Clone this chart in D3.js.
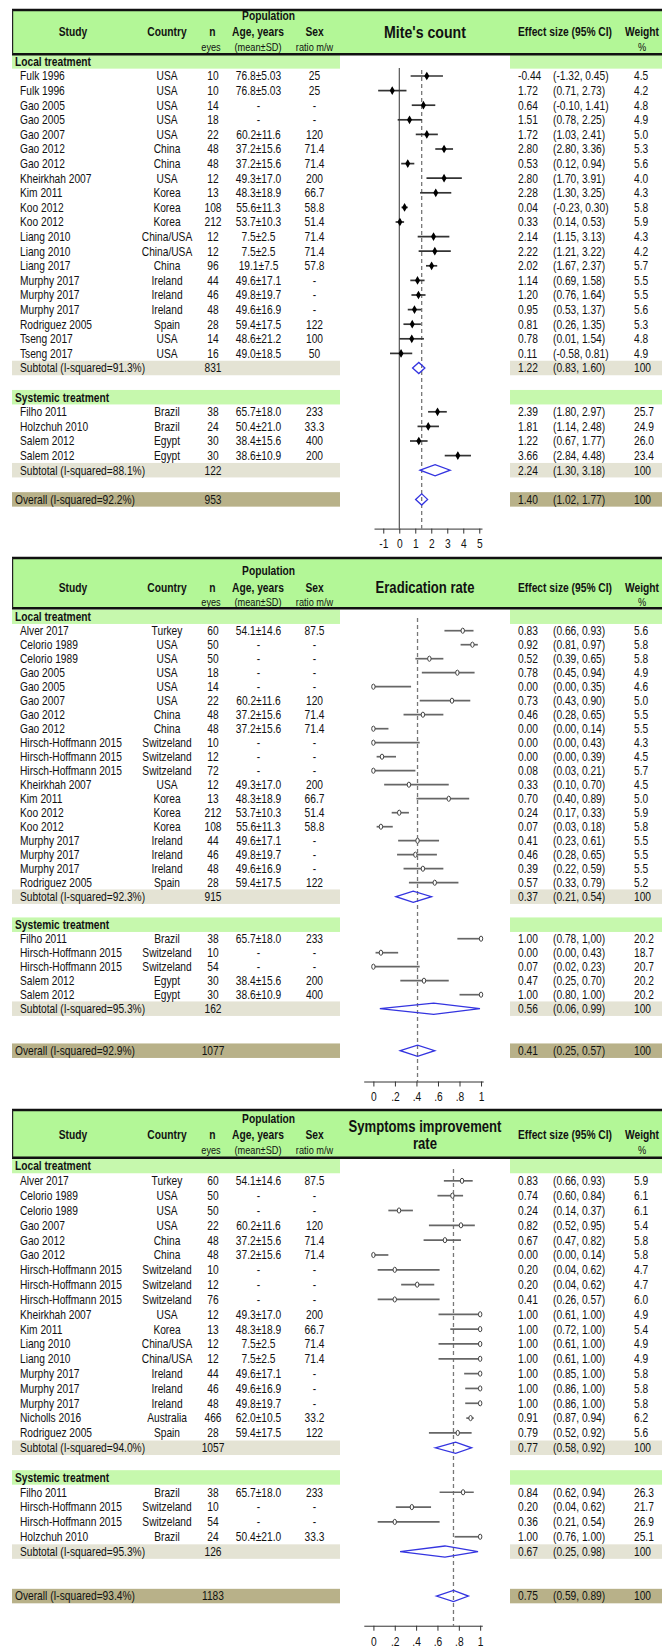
<!DOCTYPE html>
<html><head><meta charset="utf-8">
<script src="https://cdn.jsdelivr.net/npm/d3@7"></script>
<style>body{margin:0;background:#fff}svg{display:block}</style>
</head><body><svg id="c" width="662" height="1646"></svg>
<script>
// ================= DATA =================
// ---- Panel 1: Mite's count ----
const miteGroup   = [0,0,0,0,0,0,0,0,0,0,0,0,0,0,0,0,0,0,0,0,1,1,1,1];
const miteStudy   = ["Fulk 1996","Fulk 1996","Gao 2005","Gao 2005","Gao 2007","Gao 2012","Gao 2012","Kheirkhah 2007","Kim 2011","Koo 2012","Koo 2012","Liang 2010","Liang 2010","Liang 2017","Murphy 2017","Murphy 2017","Murphy 2017","Rodriguez 2005","Tseng 2017","Tseng 2017","Filho 2011","Holzchuh 2010","Salem 2012","Salem 2012"];
const miteCountry = ["USA","USA","USA","USA","USA","China","China","USA","Korea","Korea","Korea","China/USA","China/USA","China","Ireland","Ireland","Ireland","Spain","USA","USA","Brazil","Brazil","Egypt","Egypt"];
const miteN       = [10,10,14,18,22,48,48,12,13,108,212,12,12,96,44,46,48,28,14,16,38,24,30,30];
const miteAge     = ["76.8±5.03","76.8±5.03","-","-","60.2±11.6","37.2±15.6","37.2±15.6","49.3±17.0","48.3±18.9","55.6±11.3","53.7±10.3","7.5±2.5","7.5±2.5","19.1±7.5","49.6±17.1","49.8±19.7","49.6±16.9","59.4±17.5","48.6±21.2","49.0±18.5","65.7±18.0","50.4±21.0","38.4±15.6","38.6±10.9"];
const miteSex     = ["25","25","-","-","120","71.4","71.4","200","66.7","58.8","51.4","71.4","71.4","57.8","-","-","-","122","100","50","233","33.3","400","200"];
const miteES      = [-0.44,1.72,0.64,1.51,1.72,2.80,0.53,2.80,2.28,0.04,0.33,2.14,2.22,2.02,1.14,1.20,0.95,0.81,0.78,0.11,2.39,1.81,1.22,3.66];
const miteCI      = ["(-1.32, 0.45)","(0.71, 2.73)","(-0.10, 1.41)","(0.78, 2.25)","(1.03, 2.41)","(2.80, 3.36)","(0.12, 0.94)","(1.70, 3.91)","(1.30, 3.25)","(-0.23, 0.30)","(0.14, 0.53)","(1.15, 3.13)","(1.21, 3.22)","(1.67, 2.37)","(0.69, 1.58)","(0.76, 1.64)","(0.53, 1.37)","(0.26, 1.35)","(0.01, 1.54)","(-0.58, 0.81)","(1.80, 2.97)","(1.14, 2.48)","(0.67, 1.77)","(2.84, 4.48)"];
const miteWeight  = ["4.5","4.2","4.8","4.9","5.0","5.3","5.6","4.0","4.3","5.8","5.9","4.3","4.2","5.7","5.5","5.5","5.6","5.3","4.8","4.9","25.7","24.9","26.0","23.4"];
// values as plotted in the graph column
const mitePlotES  = [1.72,-0.44,1.51,0.64,1.72,2.80,0.53,2.80,2.28,0.33,0.04,2.14,2.22,2.02,1.14,1.20,0.95,0.81,0.78,0.11,2.39,1.81,1.22,3.66];
const mitePlotLo  = [0.71,-1.32,0.78,-0.10,1.03,2.25,0.12,1.70,1.30,0.14,-0.23,1.15,1.21,1.67,0.69,0.76,0.53,0.26,0.01,-0.58,1.80,1.14,0.67,2.84];
const mitePlotHi  = [2.73,0.45,2.25,1.41,2.41,3.36,0.94,3.91,3.25,0.53,0.30,3.13,3.22,2.37,1.58,1.64,1.37,1.35,1.54,0.81,2.97,2.48,1.77,4.48];
const miteSubLabel = ["Subtotal (I-squared=91.3%)","Subtotal (I-squared=88.1%)"];
const miteSubN  = [831,122];
const miteSubES = [1.22,2.24], miteSubLo = [0.83,1.30], miteSubHi = [1.60,3.18];
const miteOverall = {label:"Overall (I-squared=92.2%)", n:953, es:1.40, lo:1.02, hi:1.77};
const miteTicks = [-1,0,1,2,3,4,5];
const miteTickLabels = ["-1","0","1","2","3","4","5"];

// ---- Panel 2: Eradication rate ----
const eradGroup   = [0,0,0,0,0,0,0,0,0,0,0,0,0,0,0,0,0,0,0,1,1,1,1,1];
const eradStudy   = ["Alver 2017","Celorio 1989","Celorio 1989","Gao 2005","Gao 2005","Gao 2007","Gao 2012","Gao 2012","Hirsch-Hoffmann 2015","Hirsch-Hoffmann 2015","Hirsch-Hoffmann 2015","Kheirkhah 2007","Kim 2011","Koo 2012","Koo 2012","Murphy 2017","Murphy 2017","Murphy 2017","Rodriguez 2005","Filho 2011","Hirsch-Hoffmann 2015","Hirsch-Hoffmann 2015","Salem 2012","Salem 2012"];
const eradCountry = ["Turkey","USA","USA","USA","USA","USA","China","China","Switzeland","Switzeland","Switzeland","USA","Korea","Korea","Korea","Ireland","Ireland","Ireland","Spain","Brazil","Switzeland","Switzeland","Egypt","Egypt"];
const eradN       = [60,50,50,18,14,22,48,48,10,12,72,12,13,212,108,44,46,48,28,38,10,54,30,30];
const eradAge     = ["54.1±14.6","-","-","-","-","60.2±11.6","37.2±15.6","37.2±15.6","-","-","-","49.3±17.0","48.3±18.9","53.7±10.3","55.6±11.3","49.6±17.1","49.8±19.7","49.6±16.9","59.4±17.5","65.7±18.0","-","-","38.4±15.6","38.6±10.9"];
const eradSex     = ["87.5","-","-","-","-","120","71.4","71.4","-","-","-","200","66.7","51.4","58.8","-","-","-","122","233","-","-","200","400"];
const eradES      = [0.83,0.92,0.52,0.78,0.00,0.73,0.46,0.00,0.00,0.00,0.08,0.33,0.70,0.24,0.07,0.41,0.46,0.39,0.57,1.00,0.00,0.07,0.47,1.00];
const eradCI      = ["(0.66, 0.93)","(0.81, 0.97)","(0.39, 0.65)","(0.45, 0.94)","(0.00, 0.35)","(0.43, 0.90)","(0.28, 0.65)","(0.00, 0.14)","(0.00, 0.43)","(0.00, 0.39)","(0.03, 0.21)","(0.10, 0.70)","(0.40, 0.89)","(0.17, 0.33)","(0.03, 0.18)","(0.23, 0.61)","(0.28, 0.65)","(0.22, 0.59)","(0.33, 0.79)","(0.78, 1,00)","(0.00, 0.43)","(0.02, 0.23)","(0.25, 0.70)","(0.80, 1.00)"];
const eradWeight  = ["5.6","5.8","5.8","4.9","4.6","5.0","5.5","5.5","4.3","4.5","5.7","4.5","5.0","5.9","5.8","5.5","5.5","5.5","5.2","20.2","18.7","20.7","20.2","20.2"];
const eradPlotES  = [0.83,0.92,0.52,0.78,0.00,0.73,0.46,0.00,0.00,0.08,0.00,0.33,0.70,0.24,0.07,0.41,0.39,0.46,0.57,1.00,0.07,0.00,0.47,1.00];
const eradPlotLo  = [0.66,0.81,0.39,0.45,0.00,0.43,0.28,0.00,0.00,0.03,0.00,0.10,0.40,0.17,0.03,0.23,0.22,0.28,0.33,0.78,0.02,0.00,0.25,0.80];
const eradPlotHi  = [0.93,0.97,0.65,0.94,0.35,0.90,0.65,0.14,0.43,0.21,0.39,0.70,0.89,0.33,0.18,0.61,0.59,0.65,0.79,1.00,0.23,0.43,0.70,1.00];
const eradSubLabel = ["Subtotal (I-squared=92.3%)","Subtotal (I-squared=95.3%)"];
const eradSubN  = [915,162];
const eradSubES = [0.37,0.56], eradSubLo = [0.21,0.06], eradSubHi = [0.54,0.99];
const eradOverall = {label:"Overall (I-squared=92.9%)", n:1077, es:0.41, lo:0.25, hi:0.57};
const rateTicks = [0,0.2,0.4,0.6,0.8,1];
const rateTickLabels = ["0",".2",".4",".6",".8","1"];

// ---- Panel 3: Symptoms improvement rate ----
const sympGroup   = [0,0,0,0,0,0,0,0,0,0,0,0,0,0,0,0,0,0,1,1,1,1];
const sympStudy   = ["Alver 2017","Celorio 1989","Celorio 1989","Gao 2007","Gao 2012","Gao 2012","Hirsch-Hoffmann 2015","Hirsch-Hoffmann 2015","Hirsch-Hoffmann 2015","Kheirkhah 2007","Kim 2011","Liang 2010","Liang 2010","Murphy 2017","Murphy 2017","Murphy 2017","Nicholls 2016","Rodriguez 2005","Filho 2011","Hirsch-Hoffmann 2015","Hirsch-Hoffmann 2015","Holzchuh 2010"];
const sympCountry = ["Turkey","USA","USA","USA","China","China","Switzeland","Switzeland","Switzeland","USA","Korea","China/USA","China/USA","Ireland","Ireland","Ireland","Australia","Spain","Brazil","Switzeland","Switzeland","Brazil"];
const sympN       = [60,50,50,22,48,48,10,12,76,12,13,12,12,44,46,48,466,28,38,10,54,24];
const sympAge     = ["54.1±14.6","-","-","60.2±11.6","37.2±15.6","37.2±15.6","-","-","-","49.3±17.0","48.3±18.9","7.5±2.5","7.5±2.5","49.6±17.1","49.6±16.9","49.8±19.7","62.0±10.5","59.4±17.5","65.7±18.0","-","-","50.4±21.0"];
const sympSex     = ["87.5","-","-","120","71.4","71.4","-","-","-","200","66.7","71.4","71.4","-","-","-","33.2","122","233","-","-","33.3"];
const sympES      = [0.83,0.74,0.24,0.82,0.67,0.00,0.20,0.20,0.41,1.00,1.00,1.00,1.00,1.00,1.00,1.00,0.91,0.79,0.84,0.20,0.36,1.00];
const sympCI      = ["(0.66, 0.93)","(0.60, 0.84)","(0.14, 0.37)","(0.52, 0.95)","(0.47, 0.82)","(0.00, 0.14)","(0.04, 0.62)","(0.04, 0.62)","(0.26, 0.57)","(0.61, 1.00)","(0.72, 1.00)","(0.61, 1.00)","(0.61, 1.00)","(0.85, 1.00)","(0.86, 1.00)","(0.86, 1.00)","(0.87, 0.94)","(0.52, 0.92)","(0.62, 0.94)","(0.04, 0.62)","(0.21, 0.54)","(0.76, 1.00)"];
const sympWeight  = ["5.9","6.1","6.1","5.4","5.8","5.8","4.7","4.7","6.0","4.9","5.4","4.9","4.9","5.8","5.8","5.8","6.2","5.6","26.3","21.7","26.9","25.1"];
const sympPlotES  = [0.83,0.74,0.24,0.82,0.67,0.00,0.20,0.41,0.20,1.00,1.00,1.00,1.00,1.00,1.00,1.00,0.91,0.79,0.84,0.36,0.20,1.00];
const sympPlotLo  = [0.66,0.60,0.14,0.52,0.47,0.00,0.04,0.26,0.04,0.61,0.72,0.61,0.61,0.85,0.86,0.86,0.87,0.52,0.62,0.21,0.04,0.76];
const sympPlotHi  = [0.93,0.84,0.37,0.95,0.82,0.14,0.62,0.57,0.62,1.00,1.00,1.00,1.00,1.00,1.00,1.00,0.94,0.92,0.94,0.54,0.62,1.00];
const sympSubLabel = ["Subtotal (I-squared=94.0%)","Subtotal (I-squared=95.3%)"];
const sympSubN  = [1057,126];
const sympSubES = [0.77,0.67], sympSubLo = [0.58,0.25], sympSubHi = [0.92,0.98];
const sympOverall = {label:"Overall (I-squared=93.4%)", n:1183, es:0.75, lo:0.59, hi:0.89};

const groupLabels = ["Local treatment","Systemic treatment"];

// ================= DRAWING =================
const svg = d3.select('#c');
const ctx = document.createElement('canvas').getContext('2d');
function measure(font, txt){ ctx.font = font; return ctx.measureText(txt).width; }
const probe = "Hirsch-Hoffmann 2015";
const narrowOK = measure("20px 'Liberation Sans Narrow', monospace", probe) !== measure("20px monospace", probe);
const FAMILY = narrowOK ? "'Liberation Sans Narrow','Arial Narrow',sans-serif" : "'Liberation Sans',Arial,sans-serif";
const SX = narrowOK ? 1 : 0.82;   // horizontal squeeze to imitate a narrow face
function fit(weight, txt, target){ return target / (SX * measure(`${weight} 100px ${FAMILY}`, txt)/100); }
const FS  = fit("normal", probe, 102);           // body text
const HFS = fit("bold", "Population", 53);       // header labels
const SFS = fit("normal", "(mean±SD)", 47);      // header sub labels

const GREEN_H = "#b3f797", GREEN_B = "#c6f8ad", SUB_C = "#e4e3d4", OVR_C = "#b8b189", DIAM = "#3434e0";
const COL = {study:20, label:15, country:167, n:213, age:258.5, sex:314.5, es:518, ci:553, w:634};
const fmt = v => v.toFixed(2);

function txt(g, x, y, s, opt={}){
  return g.append('text').attr('transform', `translate(${x},${y}) scale(${SX},1)`).attr('dy','0.35em')
    .attr('text-anchor', opt.anchor || 'start')
    .style('font-family', FAMILY).style('font-size', (opt.size||FS)+'px')
    .style('font-weight', opt.bold ? 'bold' : 'normal').style('fill', '#111').text(s);
}

function drawPanel(D, L){
  const g = svg.append('g');
  const x = d3.scaleLinear().domain(L.axisDomain).range(L.axisRange);
  const nL = D.group.filter(v => v === 0).length, nS = D.group.length - nL;
  const s = L.slot;
  const yLabel = [L.labelY, 0];
  const ySub = [L.labelY + (nL+1)*s, 0];
  yLabel[1] = ySub[0] + 2*s;
  ySub[1] = yLabel[1] + (nS+1)*s;
  const yOverall = ySub[1] + L.overallGap*s;
  const yAxis = yOverall + L.axisGap*s;
  const rowY = D.group.map((gr,i) => gr === 0 ? yLabel[0] + (i+1)*s : yLabel[1] + (i-nL+1)*s);
  const bh = 14.5;

  function band(y, color){
    g.append('rect').attr('x',12).attr('y',y-bh/2).attr('width',328).attr('height',bh).attr('fill',color);
    g.append('rect').attr('x',510).attr('y',y-bh/2).attr('width',152).attr('height',bh).attr('fill',color);
  }
  yLabel.forEach(y => band(y, GREEN_B));
  ySub.forEach(y => band(y, SUB_C));
  band(yOverall, OVR_C);

  // header
  g.append('rect').attr('x',12).attr('y',L.top).attr('width',650).attr('height',L.bottom-L.top).attr('fill',GREEN_H);
  g.append('line').attr('x1',12).attr('x2',662).attr('y1',L.top).attr('y2',L.top).attr('stroke','#111').attr('stroke-width',2.5);
  g.append('line').attr('x1',12).attr('x2',662).attr('y1',L.bottom).attr('y2',L.bottom).attr('stroke','#111').attr('stroke-width',2.5);
  g.append('line').attr('x1',12.6).attr('x2',12.6).attr('y1',L.top).attr('y2',L.bottom).attr('stroke','#222').attr('stroke-width',1.2);

  txt(g, 268.6, L.popY, "Population", {anchor:'middle', bold:true, size:HFS});
  [["Study",73],["Country",167],["n",212.5],["Age, years",258],["Sex",314.5],["Effect size (95% CI)",565],["Weight",642]]
    .forEach(([t,cx]) => txt(g, cx, L.row1Y, t, {anchor:'middle', bold:true, size:HFS}));
  [["eyes",211],["(mean±SD)",258],["ratio m/w",314.5],["%",642]]
    .forEach(([t,cx]) => txt(g, cx, L.row2Y, t, {anchor:'middle', size:SFS}));
  const TFS = fit("bold", L.title[0][0], L.titleWidth);
  L.title.forEach(([t,ty]) => txt(g, 425, ty, t, {anchor:'middle', bold:true, size:TFS}));

  yLabel.forEach((y,k) => txt(g, COL.label, y, groupLabels[k], {bold:true}));

  D.study.forEach((st,i) => {
    const y = rowY[i];
    txt(g, COL.study, y, st);
    txt(g, COL.country, y, D.country[i], {anchor:'middle'});
    txt(g, COL.n, y, D.n[i], {anchor:'middle'});
    txt(g, COL.age, y, D.age[i], {anchor:'middle'});
    txt(g, COL.sex, y, D.sex[i], {anchor:'middle'});
    txt(g, COL.es, y, fmt(D.es[i]));
    txt(g, COL.ci, y, D.ci[i]);
    txt(g, COL.w, y, D.weight[i]);
  });
  ySub.forEach((y,k) => {
    txt(g, COL.study, y, D.subLabel[k]);
    txt(g, COL.n, y, D.subN[k], {anchor:'middle'});
    txt(g, COL.es, y, fmt(D.subES[k]));
    txt(g, COL.ci, y, `(${fmt(D.subLo[k])}, ${fmt(D.subHi[k])})`);
    txt(g, COL.w, y, "100");
  });
  txt(g, COL.label, yOverall, D.overall.label);
  txt(g, COL.n, yOverall, D.overall.n, {anchor:'middle'});
  txt(g, COL.es, yOverall, fmt(D.overall.es));
  txt(g, COL.ci, yOverall, `(${fmt(D.overall.lo)}, ${fmt(D.overall.hi)})`);
  txt(g, COL.w, yOverall, "100");

  if (L.zeroLine) g.append('line').attr('x1',x(0)).attr('x2',x(0)).attr('y1',L.zeroTop).attr('y2',yAxis)
      .attr('stroke','#333').attr('stroke-width',1);
  g.append('line').attr('x1',x(D.overall.es)).attr('x2',x(D.overall.es)).attr('y1',L.dashTop).attr('y2',yAxis)
      .attr('stroke','#777').attr('stroke-width',1.3).attr('stroke-dasharray','4,3');

  D.plotES.forEach((v,i) => {
    const y = rowY[i];
    g.append('line').attr('x1',x(D.plotLo[i])).attr('x2',x(D.plotHi[i])).attr('y1',y).attr('y2',y)
      .attr('stroke', L.ciColor).attr('stroke-width',1.7);
    if (L.marker === 'dot') {
      g.append('path').attr('d', d3.symbol(d3.symbolDiamond).size(22)()).attr('transform',`translate(${x(v)},${y})`).attr('fill','#000');
      g.append('line').attr('x1',x(v)).attr('x2',x(v)).attr('y1',y-3).attr('y2',y+3).attr('stroke','#000').attr('stroke-width',1);
    } else {
      g.append('ellipse').attr('cx',x(v)).attr('cy',y).attr('rx',1.7).attr('ry',2.6)
        .attr('fill','#fff').attr('stroke','#444').attr('stroke-width',1);
    }
  });
  const dh = 5.6;
  [[D.subES[0],D.subLo[0],D.subHi[0],ySub[0]],[D.subES[1],D.subLo[1],D.subHi[1],ySub[1]],[D.overall.es,D.overall.lo,D.overall.hi,yOverall]]
    .forEach(([e,lo,hi,y]) => {
      g.append('polygon').attr('points', [[x(lo),y],[x(e),y-dh],[x(hi),y],[x(e),y+dh]].map(p=>p.join(',')).join(' '))
        .attr('fill','none').attr('stroke',DIAM).attr('stroke-width',1.3);
    });

  const ax = g.append('g').attr('transform',`translate(0,${yAxis})`)
    .call(d3.axisBottom(x).tickValues(L.ticks).tickFormat((d,i) => L.tickLabels[i]).tickSize(5).tickSizeOuter(0).tickPadding(6));
  ax.select('.domain').attr('stroke','#333');
  ax.selectAll('.tick line').attr('stroke','#333');
  ax.selectAll('.tick text').attr('transform',`scale(${SX},1)`)
    .style('font-family',FAMILY).style('font-size',FS+'px').style('fill','#111');
}

drawPanel(
  {group:miteGroup, study:miteStudy, country:miteCountry, n:miteN, age:miteAge, sex:miteSex, es:miteES, ci:miteCI, weight:miteWeight,
   plotES:mitePlotES, plotLo:mitePlotLo, plotHi:mitePlotHi, subLabel:miteSubLabel, subN:miteSubN, subES:miteSubES, subLo:miteSubLo, subHi:miteSubHi, overall:miteOverall},
  {top:10, bottom:54.3, popY:15.7, row1Y:32, row2Y:47, title:[["Mite's count",32]], titleWidth:82, labelY:61.4, slot:14.6, overallGap:2, axisGap:2,
   axisDomain:[-1.58,5.17], axisRange:[374,482], ticks:miteTicks, tickLabels:miteTickLabels, zeroLine:true, zeroTop:68, dashTop:70,
   ciColor:'#333', marker:'dot'});

drawPanel(
  {group:eradGroup, study:eradStudy, country:eradCountry, n:eradN, age:eradAge, sex:eradSex, es:eradES, ci:eradCI, weight:eradWeight,
   plotES:eradPlotES, plotLo:eradPlotLo, plotHi:eradPlotHi, subLabel:eradSubLabel, subN:eradSubN, subES:eradSubES, subLo:eradSubLo, subHi:eradSubHi, overall:eradOverall},
  {top:558, bottom:608.3, popY:570.3, row1Y:587.3, row2Y:601.7, title:[["Eradication rate",587.3]], titleWidth:99, labelY:616.7, slot:14.0, overallGap:3, axisGap:2.2,
   axisDomain:[-0.09,1.02], axisRange:[363.7,483.2], ticks:rateTicks, tickLabels:rateTickLabels, zeroLine:false, dashTop:618,
   ciColor:'#666', marker:'circle'});

drawPanel(
  {group:sympGroup, study:sympStudy, country:sympCountry, n:sympN, age:sympAge, sex:sympSex, es:sympES, ci:sympCI, weight:sympWeight,
   plotES:sympPlotES, plotLo:sympPlotLo, plotHi:sympPlotHi, subLabel:sympSubLabel, subN:sympSubN, subES:sympSubES, subLo:sympSubLo, subHi:sympSubHi, overall:sympOverall},
  {top:1110, bottom:1157.7, popY:1118.3, row1Y:1135, row2Y:1150, title:[["Symptoms improvement",1126.7],["rate",1143.3]], titleWidth:153, labelY:1166, slot:14.83, overallGap:3, axisGap:2,
   axisDomain:[-0.09,1.02], axisRange:[363.8,482.3], ticks:rateTicks, tickLabels:rateTickLabels, zeroLine:false, dashTop:1169,
   ciColor:'#666', marker:'circle'});
</script>
</body></html>
